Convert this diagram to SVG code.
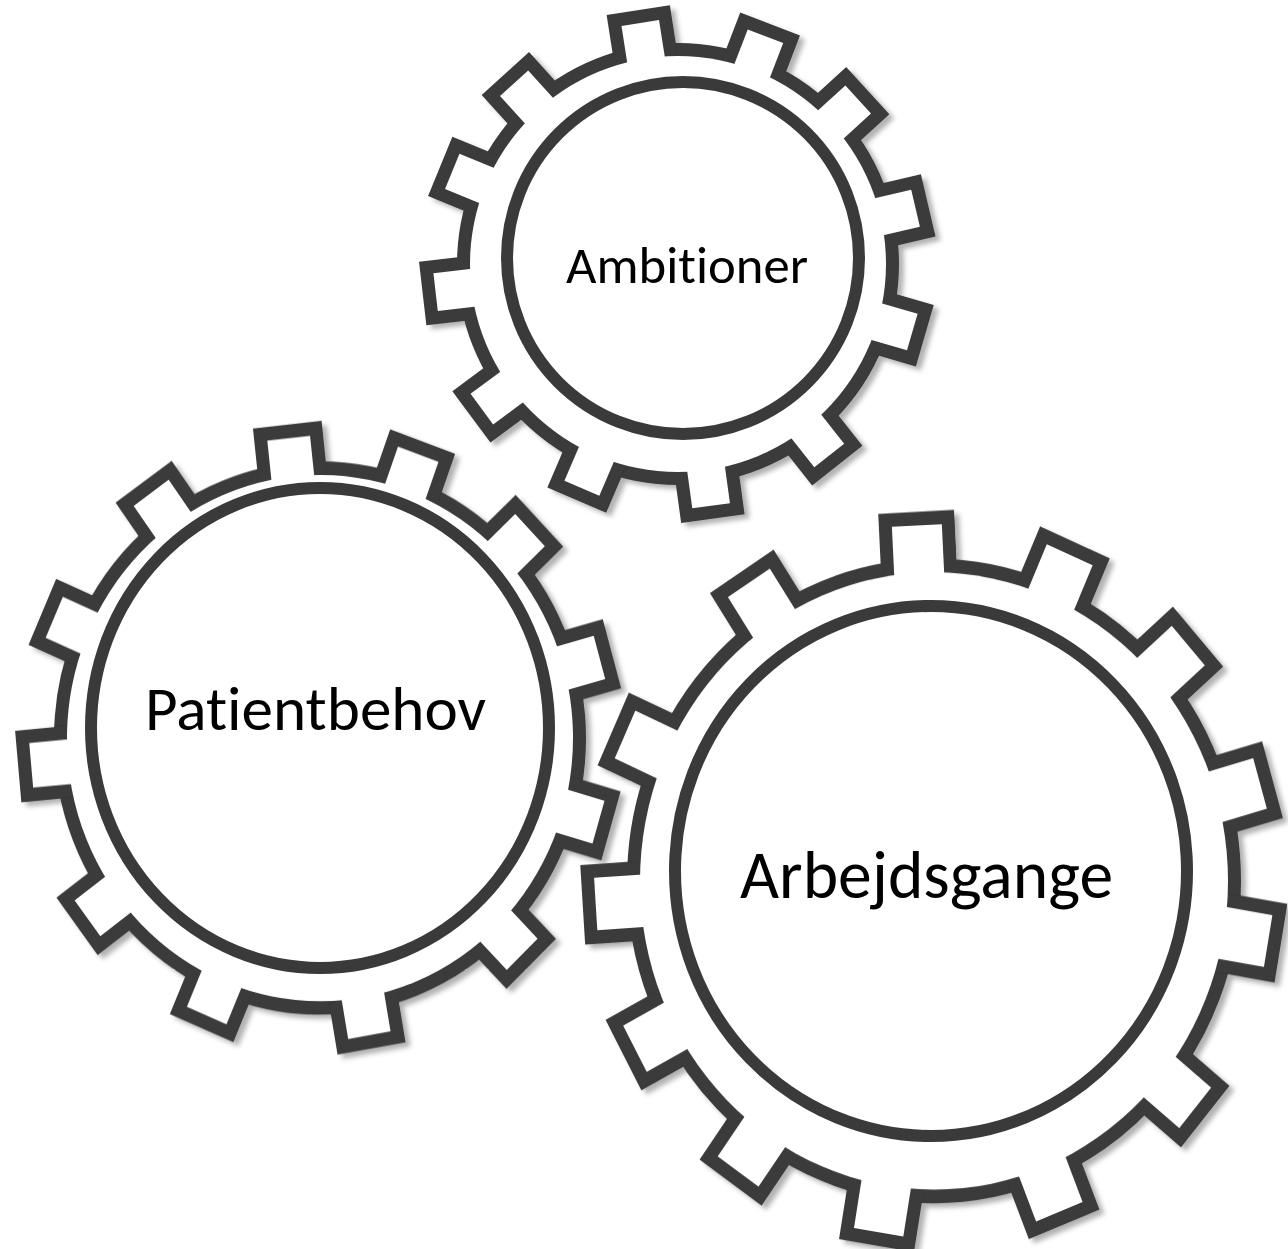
<svg xmlns="http://www.w3.org/2000/svg" xmlns:xlink="http://www.w3.org/1999/xlink" width="1288" height="1249" viewBox="0 0 1288 1249">
  <style>
    .ink { fill: #3a3a3a; stroke: #3a3a3a; stroke-width: 26; stroke-linejoin: miter; }
    .paper { fill: #ffffff; stroke: none; }
    .hub { fill: none; stroke: #3a3a3a; stroke-width: 12; }
    .label { font-family: Carlito, "Open Sans", "Noto Sans", sans-serif; fill: #000000; text-anchor: middle; font-variant-ligatures: none; font-feature-settings: "liga" 0, "clig" 0; }
  </style>
  <defs>
    <filter id="shadow" x="-10%" y="-10%" width="125%" height="125%">
      <feDropShadow dx="5" dy="4" stdDeviation="2.5" flood-color="#000000" flood-opacity="0.3"/>
    </filter>
    <rect id="t1" x="190" y="-19" width="54" height="38"/>
    <rect id="t2" x="235" y="-21.5" width="55" height="43"/>
    <rect id="t3" x="275" y="-25" width="64" height="50"/>
    <g id="shape1">
      <circle r="208"/>
      <use href="#t1" transform="rotate(-98.9)"/>
      <use href="#t1" transform="rotate(-69)"/>
      <use href="#t1" transform="rotate(-42.4)"/>
      <use href="#t1" transform="rotate(-13.2)"/>
      <use href="#t1" transform="rotate(16.2)"/>
      <use href="#t1" transform="rotate(51.7)"/>
      <use href="#t1" transform="rotate(82.2)"/>
      <use href="#t1" transform="rotate(113.2)"/>
      <use href="#t1" transform="rotate(143.5)"/>
      <use href="#t1" transform="rotate(173.4)"/>
      <use href="#t1" transform="rotate(202.3)"/>
      <use href="#t1" transform="rotate(227.8)"/>
    </g>
    <g id="shape2">
      <circle r="253"/>
      <use href="#t2" transform="rotate(-96.2)"/>
      <use href="#t2" transform="rotate(-70.2)"/>
      <use href="#t2" transform="rotate(-43.6)"/>
      <use href="#t2" transform="rotate(-15.5)"/>
      <use href="#t2" transform="rotate(16.2)"/>
      <use href="#t2" transform="rotate(45.8)"/>
      <use href="#t2" transform="rotate(80.2)"/>
      <use href="#t2" transform="rotate(113)"/>
      <use href="#t2" transform="rotate(143.3)"/>
      <use href="#t2" transform="rotate(174.8)"/>
      <use href="#t2" transform="rotate(203.6)"/>
      <use href="#t2" transform="rotate(234.4)"/>
    </g>
    <g id="shape3">
      <circle r="294"/>
      <use href="#t3" transform="rotate(-92.9)"/>
      <use href="#t3" transform="rotate(-66.4)"/>
      <use href="#t3" transform="rotate(-41.4)"/>
      <use href="#t3" transform="rotate(-15.9)"/>
      <use href="#t3" transform="rotate(9.7)"/>
      <use href="#t3" transform="rotate(39.6)"/>
      <use href="#t3" transform="rotate(68.3)"/>
      <use href="#t3" transform="rotate(99.4)"/>
      <use href="#t3" transform="rotate(125.3)"/>
      <use href="#t3" transform="rotate(151.9)"/>
      <use href="#t3" transform="rotate(176.3)"/>
      <use href="#t3" transform="rotate(204.3)"/>
      <use href="#t3" transform="rotate(236.9)"/>
    </g>
  </defs>

  <rect width="1288" height="1249" fill="#ffffff"/>

  <g id="gear-patientbehov">
    <g transform="translate(320 738) scale(1 1.04)">
      <use href="#shape2" class="ink" filter="url(#shadow)"/>
      <use href="#shape2" class="paper"/>
    </g>
    <ellipse class="hub" cx="320" cy="728" rx="229" ry="240"/>
    <text class="label" x="315.5" y="730" font-size="62" textLength="341" lengthAdjust="spacingAndGlyphs">Patientbehov</text>
  </g>

  <g id="gear-ambitioner">
    <g transform="translate(678 264)">
      <use href="#shape1" class="ink" filter="url(#shadow)"/>
      <use href="#shape1" class="paper"/>
    </g>
    <circle class="hub" cx="683" cy="258" r="176"/>
    <text class="label" x="687" y="283" font-size="52" textLength="242" lengthAdjust="spacingAndGlyphs">Ambitioner</text>
  </g>

  <g id="gear-arbejdsgange">
    <g transform="translate(934 881) scale(1 1.05)">
      <use href="#shape3" class="ink" filter="url(#shadow)"/>
      <use href="#shape3" class="paper"/>
    </g>
    <ellipse class="hub" cx="931" cy="871" rx="256" ry="265"/>
    <text class="label" x="926.5" y="898" font-size="67" textLength="373" lengthAdjust="spacingAndGlyphs">Arbejdsgange</text>
  </g>
</svg>
